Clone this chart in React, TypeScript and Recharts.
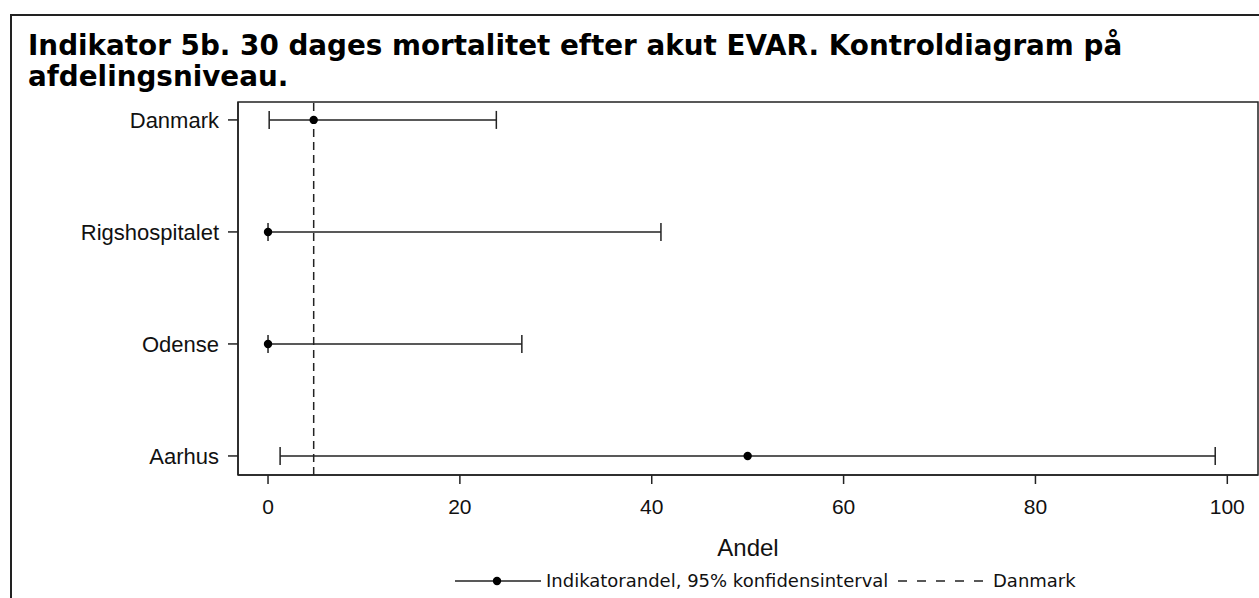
import React from 'react';
import { ScatterChart, Scatter, XAxis, YAxis, ErrorBar, ReferenceLine, ReferenceArea } from 'recharts';

const categories = ['Danmark', 'Rigshospitalet', 'Odense', 'Aarhus'];
const estimates = [4.76, 0, 0, 50];
const lowerCI = [0.12, 0, 0, 1.26];
const upperCI = [23.8, 40.96, 26.46, 98.74];
const nationalRate = 4.76;
const xTicks = [0, 20, 40, 60, 80, 100];
const xDomain = [-3.13, 103.2];
const yDomain = [-0.16, 3.17];
const titleLines = ['Indikator 5b. 30 dages mortalitet efter akut EVAR. Kontroldiagram på', 'afdelingsniveau.'];
const legendLabels = ['Indikatorandel, 95% konfidensinterval', 'Danmark'];

const data = categories.map((name, i) => ({
  name,
  idx: i,
  est: estimates[i],
  err: [estimates[i] - lowerCI[i], upperCI[i] - estimates[i]],
}));

const INK = '#222';
const AXIS_FONT = '"Liberation Sans", Arial, sans-serif';
const DJ = '"DejaVu Sans", sans-serif';

const Dot = (props: any) => <circle cx={props.cx} cy={props.cy} r={4.2} fill="#000" />;

const LegendBox = () => (
  <svg width={1259} height={26} style={{ display: 'block' }}>
    <line x1={455} x2={541} y1={13} y2={13} stroke={INK} strokeWidth={1.5} />
    <circle cx={497} cy={13} r={4.2} fill="#000" />
    <text x={546} y={19} fontFamily={DJ} fontSize={18} fill="#111">{legendLabels[0]}</text>
    <line x1={898} x2={985} y1={13} y2={13} stroke={INK} strokeWidth={1.5} strokeDasharray="9 10" />
    <text x={993} y={19} fontFamily={DJ} fontSize={18} fill="#111">{legendLabels[1]}</text>
  </svg>
);

export default function App() {
  return (
    <div style={{ position: 'relative', width: 1259, height: 598, overflow: 'hidden', background: '#fff' }}>
      <style>{`html, body { margin: 0; padding: 0; overflow: hidden; }`}</style>
      <div style={{ position: 'absolute', left: 10, top: 14, width: 1300, height: 700, borderLeft: '2px solid #222', borderTop: '2px solid #222' }} />
      <div style={{ position: 'absolute', left: 28, top: 30, fontFamily: DJ, fontWeight: 'bold', fontSize: 27.8, lineHeight: '31px', color: '#000', whiteSpace: 'nowrap' }}>
        {titleLines.map((t, i) => <div key={i}>{t}</div>)}
      </div>
      <div style={{ position: 'absolute', left: 0, top: 0 }}>
        <ScatterChart width={1259} height={598} margin={{ top: 102, right: 1, left: 0, bottom: 0 }}>
          <XAxis
            type="number"
            dataKey="est"
            domain={xDomain}
            ticks={xTicks}
            tickSize={9}
            tickMargin={15}
            height={123}
            axisLine={{ stroke: INK, strokeWidth: 1.5 }}
            tickLine={{ stroke: INK, strokeWidth: 1.5 }}
            tick={{ fontFamily: AXIS_FONT, fontSize: 21, fill: '#111' }}
            label={{ value: 'Andel', position: 'insideBottom', offset: 42, fontFamily: AXIS_FONT, fontSize: 24, fill: '#111' }}
          />
          <YAxis
            type="number"
            dataKey="idx"
            domain={yDomain}
            reversed
            ticks={[0, 1, 2, 3]}
            interval={0}
            width={238}
            tickSize={10}
            tickMargin={9}
            tickFormatter={(v: number) => categories[v] ?? ''}
            axisLine={{ stroke: INK, strokeWidth: 1.5 }}
            tickLine={{ stroke: INK, strokeWidth: 1.5 }}
            tick={{ fontFamily: AXIS_FONT, fontSize: 22, fill: '#111' }}
          />
          <ReferenceArea
            x1={xDomain[0]}
            x2={xDomain[1]}
            y1={yDomain[0]}
            y2={yDomain[1]}
            fill="none"
            fillOpacity={0}
            stroke={INK}
            strokeWidth={1.5}
            ifOverflow="visible"
          />
          <ReferenceLine x={nationalRate} stroke={INK} strokeWidth={1.5} strokeDasharray="8 5" />
          <Scatter data={data} isAnimationActive={false} shape={Dot}>
            <ErrorBar dataKey="err" direction="x" width={9} stroke={INK} strokeWidth={1.5} />
          </Scatter>
        </ScatterChart>
      </div>
      <div style={{ position: 'absolute', left: 0, top: 568 }}>
        <LegendBox />
      </div>
    </div>
  );
}
